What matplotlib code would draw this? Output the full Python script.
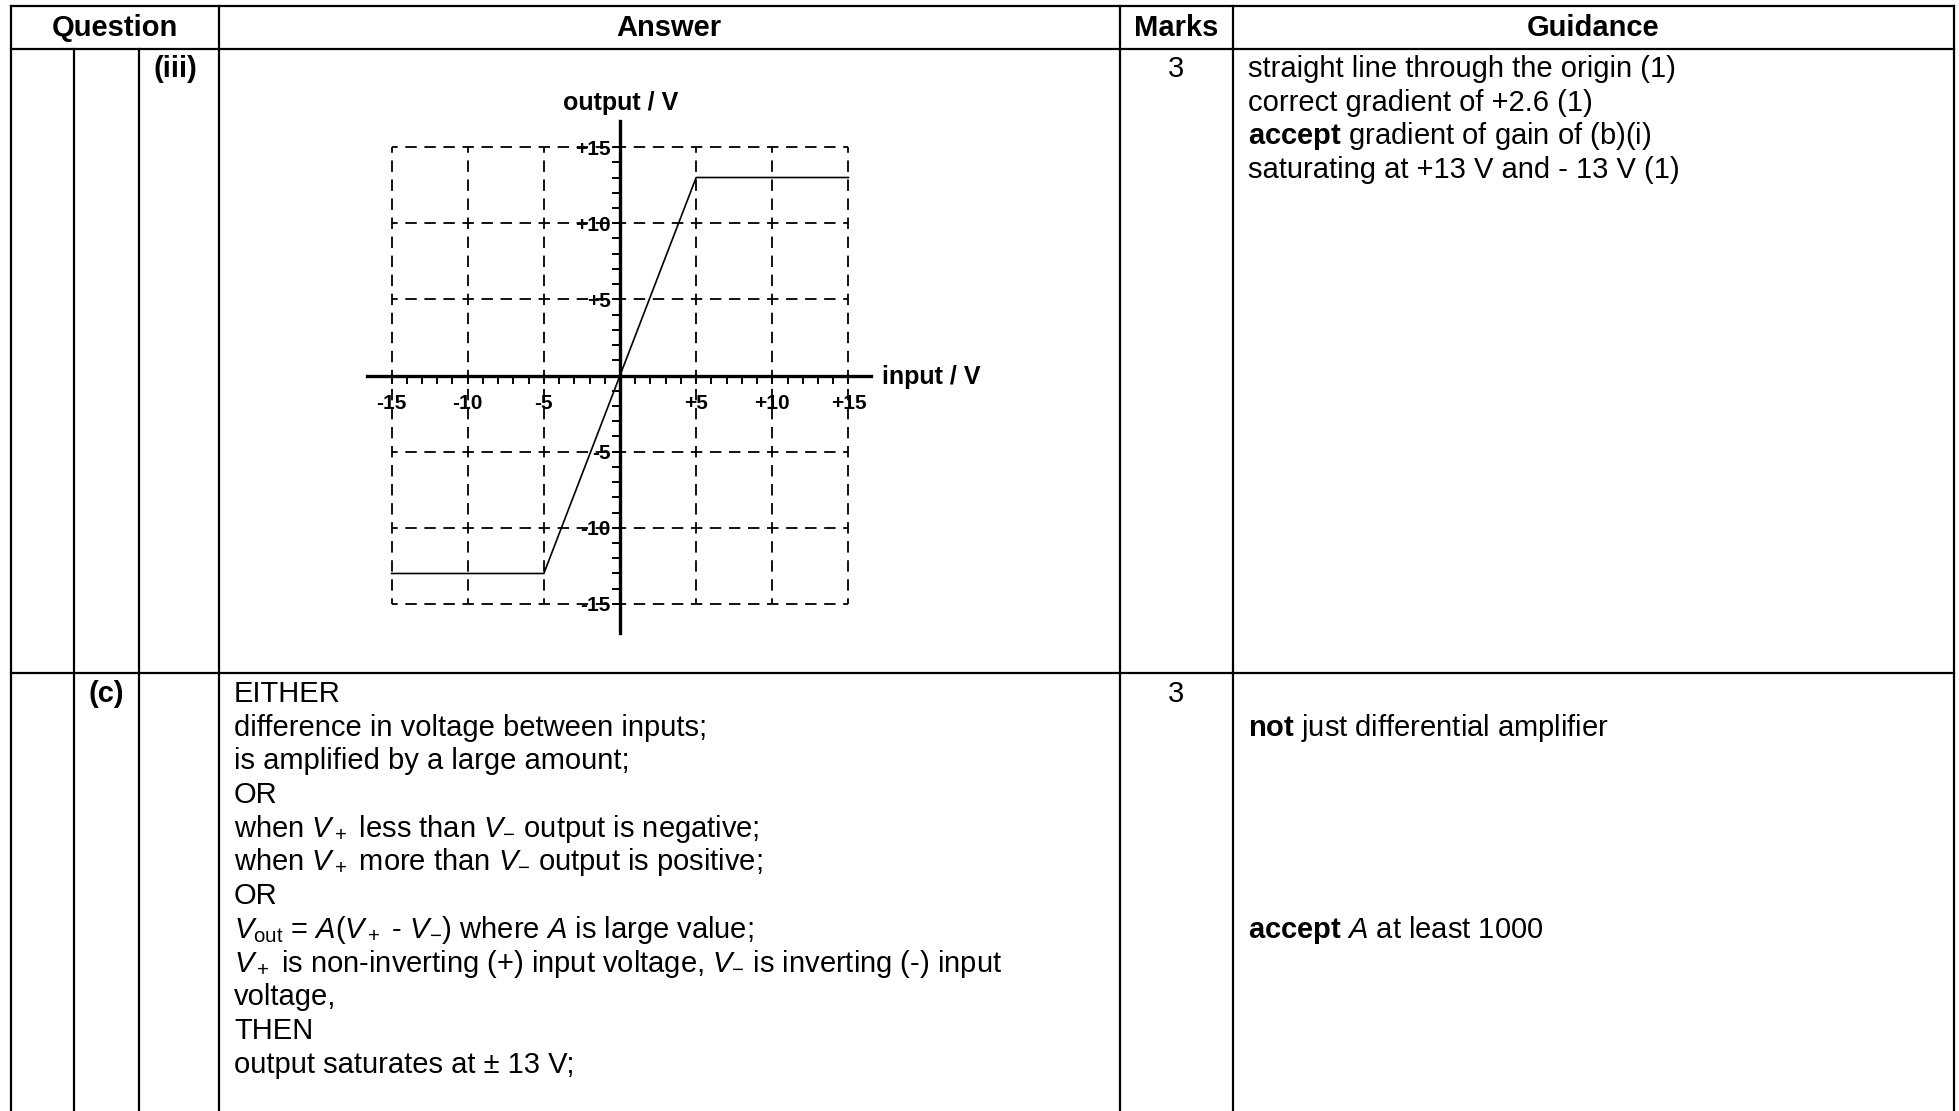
import numpy as np
import matplotlib
matplotlib.use('Agg')
import matplotlib.pyplot as plt

plt.rcParams['font.family'] = ['Liberation Sans', 'DejaVu Sans']
plt.rcParams['mathtext.fontset'] = 'custom'
plt.rcParams['mathtext.rm'] = 'Liberation Sans'
plt.rcParams['mathtext.it'] = 'Liberation Sans:italic'
plt.rcParams['mathtext.bf'] = 'Liberation Sans:bold'
plt.rcParams['lines.scale_dashes'] = False

# transfer characteristic (input V -> output V)
input_v = [-15, -5, 5, 15]
output_v = [-13, -13, 13, 13]
grid_vals = [-15, -10, -5, 5, 10, 15]
x_tick_labels = ['-15', '-10', '-5', '+5', '+10', '+15']
y_tick_labels = ['-15', '-10', '-5', '+5', '+10', '+15']

headers = ['Question', 'Answer', 'Marks', 'Guidance']
part_iii = '(iii)'
part_c = '(c)'
marks_iii = '3'
marks_c = '3'
guidance_iii = [
    'straight line through the origin (1)',
    'correct gradient of +2.6 (1)',
    r'$\mathbf{accept}$ gradient of gain of (b)(i)',
    'saturating at +13 V and - 13 V (1)',
]
answer_c = [
    'EITHER',
    'difference in voltage between inputs;',
    'is amplified by a large amount;',
    'OR',
    r'when $V_+$ less than $V_{\mathrm{-}}$ output is negative;',
    r'when $V_+$ more than $V_{\mathrm{-}}$ output is positive;',
    'OR',
    r'$V_{\mathrm{out}}$ = $A$($V_+$ - $V_{\mathrm{-}}$) where $A$ is large value;',
    r'$V_+$ is non-inverting (+) input voltage, $V_{\mathrm{-}}$ is inverting (-) input',
    'voltage,',
    'THEN',
    'output saturates at \u00b1 13 V;',
]
guidance_c = {1: r'$\mathbf{not}$ just differential amplifier',
              7: r'$\mathbf{accept}$ $A$ at least 1000'}

W, H = 1959, 1111
fig = plt.figure(figsize=(W / 100, H / 100), dpi=100)
fig.patch.set_facecolor('white')

# ---- table frame ----
tab = fig.add_axes([0, 0, 1, 1])
tab.set_xlim(0, W)
tab.set_ylim(H, 0)
tab.axis('off')

lw_t = 1.6
for y in [6, 49, 673]:
    tab.plot([11, 1954], [y, y], color='black', lw=lw_t, solid_capstyle='projecting')
for x in [11, 219, 1120, 1233, 1954]:
    tab.plot([x, x], [6, H], color='black', lw=lw_t)
for x in [74, 139]:
    tab.plot([x, x], [49, H], color='black', lw=lw_t)

fs = 21
hx = [115, 669, 1176, 1593]
for x, h in zip(hx, headers):
    tab.text(x, 36, h, ha='center', va='baseline', fontsize=fs, fontweight='bold')

step = 33.7
tab.text(175, 77, part_iii, ha='center', va='baseline', fontsize=fs, fontweight='bold')
tab.text(1176, 77, marks_iii, ha='center', va='baseline', fontsize=fs)
for i, s in enumerate(guidance_iii):
    tab.text(1248, 77 + i * step, s, ha='left', va='baseline', fontsize=fs)

base_c = 702
tab.text(106, base_c, part_c, ha='center', va='baseline', fontsize=fs, fontweight='bold')
tab.text(1176, base_c, marks_c, ha='center', va='baseline', fontsize=fs)
for i, s in enumerate(answer_c):
    tab.text(234, base_c + i * step, s, ha='left', va='baseline', fontsize=fs)
for i, s in guidance_c.items():
    tab.text(1248, base_c + i * step, s, ha='left', va='baseline', fontsize=fs)

# ---- chart ----
ox, oy = 620, 375.5
sx, sy = 15.23, 15.23
xlim = (-16.6, 16.5)
ylim = (-16.9, 16.7)
left_px = ox + xlim[0] * sx
top_px = oy - ylim[1] * sy
bot_px = oy - ylim[0] * sy
ax = fig.add_axes([left_px / W, 1 - bot_px / H,
                   (xlim[1] - xlim[0]) * sx / W, (ylim[1] - ylim[0]) * sy / H])
ax.set_xlim(*xlim)
ax.set_ylim(*ylim)
ax.patch.set_alpha(0)

# dashed grid, dashes centred on every grid crossing
per_x = 5 * sx / 4 * 0.72
per_y = 5 * sy / 4 * 0.72
dx = per_x * 0.6
dy = per_y * 0.6
for v in grid_vals:
    ax.plot([-15, 15], [v, v], color='black', lw=1.3,
            linestyle=(dx / 2, (dx, per_x - dx)))
    ax.plot([v, v], [-15, 15], color='black', lw=1.3,
            linestyle=(dy / 2, (dy, per_y - dy)))

ax.plot(input_v, output_v, color='black', lw=1.2, zorder=5)

for side in ['top', 'right']:
    ax.spines[side].set_visible(False)
ax.spines['left'].set_position('zero')
ax.spines['bottom'].set_position('zero')
ax.spines['left'].set_linewidth(2.4)
ax.spines['bottom'].set_linewidth(2.4)

ax.set_xticks(grid_vals)
ax.set_xticklabels(x_tick_labels, fontsize=15, fontweight='bold')
ax.set_yticks(grid_vals)
ax.set_yticklabels(y_tick_labels, fontsize=15, fontweight='bold')
ax.set_xticks(np.arange(-15, 16), minor=True)
ax.set_yticks(np.arange(-15, 16), minor=True)
ax.tick_params(axis='both', which='both', direction='out', length=5.5, width=1.4, color='black')
ax.tick_params(axis='x', which='major', pad=8)
ax.tick_params(axis='y', which='major', pad=1)

ax.text(0.06, 17.9, 'output / V', ha='center', va='center', fontsize=18, fontweight='bold')
ax.text(17.2, -0.07, 'input / V', ha='left', va='center', fontsize=18, fontweight='bold')

fig.savefig('out.png', dpi=100, facecolor='white')
